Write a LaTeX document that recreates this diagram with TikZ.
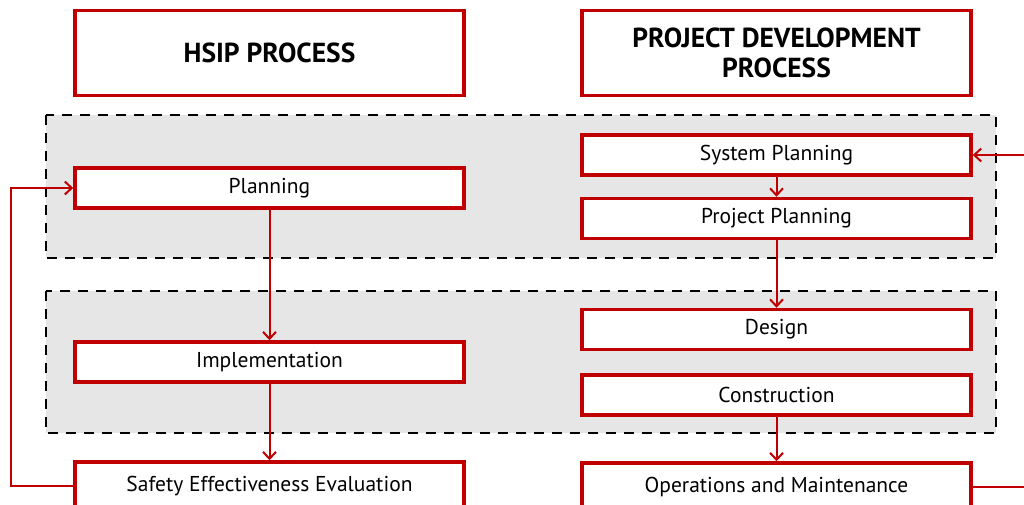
\documentclass[tikz,border=0pt]{standalone}
\usepackage{fontspec}
\setmainfont{PT Sans}
\usetikzlibrary{arrows.meta}
\definecolor{hsipred}{HTML}{C00000}
\definecolor{zonegray}{HTML}{E6E6E6}
\begin{document}
\begin{tikzpicture}[x=1pt,y=-1pt,>={Straight Barb[length=7pt,width=13pt,line width=2pt]},
	step box/.style={draw=hsipred,line width=3.5pt,fill=white,minimum width=389pt,minimum height=40pt,inner sep=0pt,font=\fontsize{21.5}{24}\selectfont},
	head box/.style={step box,minimum height=85pt,align=center,font=\bfseries\fontsize{27.5}{30}\selectfont},
	end box/.style={step box,minimum height=48pt},
	zone/.style={draw=black,fill=zonegray,line width=2.5pt,dash pattern=on 10pt off 8pt},
	link/.style={draw=hsipred,line width=2pt}]
	\clip (0,0) rectangle (1024,504);
	\useasboundingbox (0,0) rectangle (1024,504);
	% dashed zones
	\draw[zone] (46,115) rectangle (996,258);
	\draw[zone] (46,291) rectangle (996,433);
	% headers
	\node[head box] (hsip) at (269.5,53) {HSIP PROCESS};
	\node[head box] (pdp) at (776.5,53) {PROJECT DEVELOPMENT\\PROCESS};
	% HSIP steps
	\node[step box] (plan) at (269.5,188) {Planning};
	\node[step box] (impl) at (269.5,362) {Implementation};
	\node[end box] (see) at (269.5,486) {Safety Effectiveness Evaluation};
	% project development steps
	\node[step box] (sys) at (776.5,155) {System Planning};
	\node[step box] (proj) at (776.5,218.5) {Project Planning};
	\node[step box] (design) at (776.5,329.5) {Design};
	\node[step box] (constr) at (776.5,395) {Construction};
	\node[end box] (om) at (776.5,487) {Operations and Maintenance};
	\coordinate (loopl) at (11,0);
	\coordinate (loopr) at (1030,0);
	% connectors
	\draw[link,->] (plan) -- (impl);
	\draw[link,->] (impl) -- (see);
	\draw[link,->] (see.west) -| (loopl |- plan.west) -- (plan.west);
	\draw[link,->] (sys) -- (proj);
	\draw[link,->] (proj) -- (design);
	\draw[link,->] (constr) -- (om);
	\draw[link] (om.east) -- (loopr |- om.east);
	\draw[link,->] (loopr |- sys.east) -- (sys.east);
\end{tikzpicture}
\end{document}
